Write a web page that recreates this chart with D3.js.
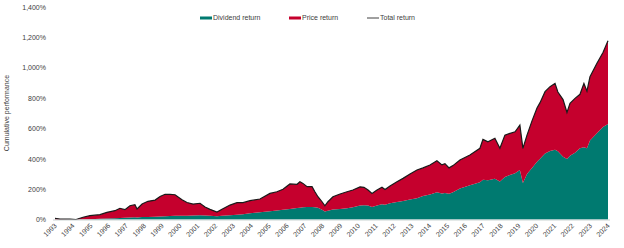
<!DOCTYPE html>
<html>
<head>
<meta charset="utf-8">
<script src="https://cdn.jsdelivr.net/npm/d3@7"></script>
<style>
  html, body { margin: 0; padding: 0; background: #fff; }
  svg { display: block; font-family: "Liberation Sans", Arial, sans-serif; }
</style>
</head>
<body>
<div id="chart"></div>
<script>
// decimal year positions of each reading (label axis)
const dates = [
  1993.0, 1993.28, 1993.84, 1994.18, 1994.57, 1994.96, 1995.52, 1995.91, 1996.36, 1996.64,
  1996.92, 1997.20, 1997.48, 1997.60, 1997.88, 1998.21, 1998.61, 1998.89, 1999.17, 1999.45,
  1999.73, 2000.12, 2000.40, 2000.74, 2001.13, 2001.41, 2001.69, 2002.08, 2002.36, 2002.81,
  2003.20, 2003.54, 2003.93, 2004.49, 2005.05, 2005.44, 2005.78, 2006.17, 2006.57, 2006.73,
  2006.90, 2007.13, 2007.41, 2007.57, 2007.74, 2007.97, 2008.13, 2008.30, 2008.58, 2008.98,
  2009.37, 2009.70, 2010.10, 2010.32, 2010.55, 2010.77, 2011.05, 2011.33, 2011.50, 2011.78,
  2012.17, 2012.51, 2012.90, 2013.29, 2013.63, 2014.02, 2014.41, 2014.69, 2014.86, 2015.09,
  2015.31, 2015.70, 2016.26, 2016.82, 2016.99, 2017.27, 2017.66, 2017.94, 2018.22, 2018.50,
  2018.79, 2019.06, 2019.23, 2019.46, 2019.74, 2020.02, 2020.19, 2020.47, 2020.75, 2021.03,
  2021.19, 2021.48, 2021.70, 2021.87, 2022.15, 2022.43, 2022.65, 2022.82, 2022.99, 2023.38,
  2023.72, 2024.00
];

// cumulative total return, %
const totalReturn = [
  8, 3, 2, 0, 15, 25, 32, 47, 58, 74,
  65, 91, 98, 69, 102, 120, 128, 152, 166, 165,
  163, 130, 112, 102, 107, 82, 67, 49, 67, 95,
  111, 111, 124, 135, 172, 183, 199, 234, 232, 249,
  238, 216, 216, 183, 150, 117, 90, 117, 150, 168,
  183, 194, 215, 212, 194, 172, 194, 212, 198, 221,
  249, 271, 300, 326, 340, 359, 387, 360, 368, 340,
  355, 392, 425, 469, 528, 512, 535, 469, 556, 567,
  578, 622, 469, 556, 650, 735, 770, 842, 875, 897,
  840, 790, 705, 765, 798, 825, 897, 845, 941, 1029,
  1100, 1178
];

// cumulative dividend return, %
const dividendReturn = [
  0, 0, 0, 0, 1, 2, 5, 7, 9, 10,
  11, 14, 15, 14, 16, 17, 18, 20, 21, 23,
  24, 25, 25, 26, 28, 26, 24, 22, 24, 28,
  32, 35, 42, 48, 55, 60, 65, 70, 75, 78,
  80, 82, 82, 80, 78, 65, 52, 58, 66, 70,
  74, 80, 92, 94, 92, 82, 92, 100, 98, 107,
  115, 122, 132, 140, 155, 165, 180, 172, 175, 170,
  180, 205, 225, 245, 262, 258, 268, 250, 280, 293,
  305, 326, 240, 300, 340, 381, 400, 435, 452, 460,
  450, 414, 398, 420, 440, 469, 476, 470, 520, 568,
  610, 630
];

const yearLabels = d3.range(1993, 2025);
const yTicks = [0, 200, 400, 600, 800, 1000, 1200, 1400];

const width = 624, height = 248;
const teal = "#007a70", red = "#c5002d";

const rows = dates.map((d, i) => ({
  date: d,
  dividend: dividendReturn[i],
  price: totalReturn[i] - dividendReturn[i],
  total: totalReturn[i]
}));

const x = d3.scaleLinear().domain([1993, 2024]).range([55, 608]);
const y = d3.scaleLinear().domain([0, 1400]).range([219.5, 7]);

const svg = d3.select("#chart").append("svg")
  .attr("width", width)
  .attr("height", height);

const stack = d3.stack().keys(["dividend", "price"]);
const layers = stack(rows);

const area = d3.area()
  .x(d => x(d.data.date))
  .y0(d => y(d[0]))
  .y1(d => y(d[1]));

svg.selectAll("path.layer")
  .data(layers)
  .join("path")
  .attr("class", "layer")
  .attr("fill", (d, i) => i === 0 ? teal : red)
  .attr("d", area);

// total return line on top
svg.append("path")
  .datum(rows)
  .attr("fill", "none")
  .attr("stroke", "#1a1a1a")
  .attr("stroke-width", 1.2)
  .attr("d", d3.line().x(d => x(d.date)).y(d => y(d.total)));

// x axis baseline
svg.append("line")
  .attr("x1", 53).attr("x2", 610)
  .attr("y1", y(0) + 0.5).attr("y2", y(0) + 0.5)
  .attr("stroke", "#c9d3d2")
  .attr("stroke-width", 1);

// y axis labels
const yAxis = d3.axisLeft(y)
  .tickValues(yTicks)
  .tickSize(0)
  .tickPadding(0)
  .tickFormat(d => d3.format(",")(d) + "%");

svg.append("g")
  .attr("transform", "translate(46,0)")
  .call(yAxis)
  .call(g => g.select(".domain").remove())
  .selectAll("text")
  .attr("font-size", 7)
  .attr("fill", "#404040")
  .attr("font-family", "Liberation Sans, Arial, sans-serif");

// x axis labels, rotated
const xAxis = d3.axisBottom(x)
  .tickValues(yearLabels)
  .tickSize(0)
  .tickPadding(0)
  .tickFormat(d3.format("d"));

svg.append("g")
  .attr("transform", `translate(0,${y(0) + 5})`)
  .call(xAxis)
  .call(g => g.select(".domain").remove())
  .selectAll("text")
  .attr("font-size", 7)
  .attr("fill", "#404040")
  .attr("font-family", "Liberation Sans, Arial, sans-serif")
  .attr("text-anchor", "end")
  .attr("dy", "0.35em")
  .attr("y", 0)
  .attr("transform", "rotate(-45)");

// y title
svg.append("text")
  .attr("transform", "translate(9,113) rotate(-90)")
  .attr("text-anchor", "middle")
  .attr("font-size", 7)
  .attr("fill", "#404040")
  .text("Cumulative performance");

// legend
const legend = [
  { name: "Dividend return", type: "bar", color: teal, x: 200 },
  { name: "Price return", type: "bar", color: red, x: 289 },
  { name: "Total return", type: "line", color: "#404040", x: 367 }
];

const lg = svg.append("g").selectAll("g")
  .data(legend)
  .join("g")
  .attr("transform", d => `translate(${d.x},18)`);

lg.filter(d => d.type === "bar").append("rect")
  .attr("x", 0).attr("y", -1.5)
  .attr("width", 12).attr("height", 3)
  .attr("fill", d => d.color);

lg.filter(d => d.type === "line").append("line")
  .attr("x1", 0).attr("x2", 12)
  .attr("y1", 0).attr("y2", 0)
  .attr("stroke", d => d.color)
  .attr("stroke-width", 1);

lg.append("text")
  .attr("x", 13)
  .attr("dy", "0.35em")
  .attr("font-size", 7)
  .attr("fill", "#404040")
  .text(d => d.name);
</script>
</body>
</html>
